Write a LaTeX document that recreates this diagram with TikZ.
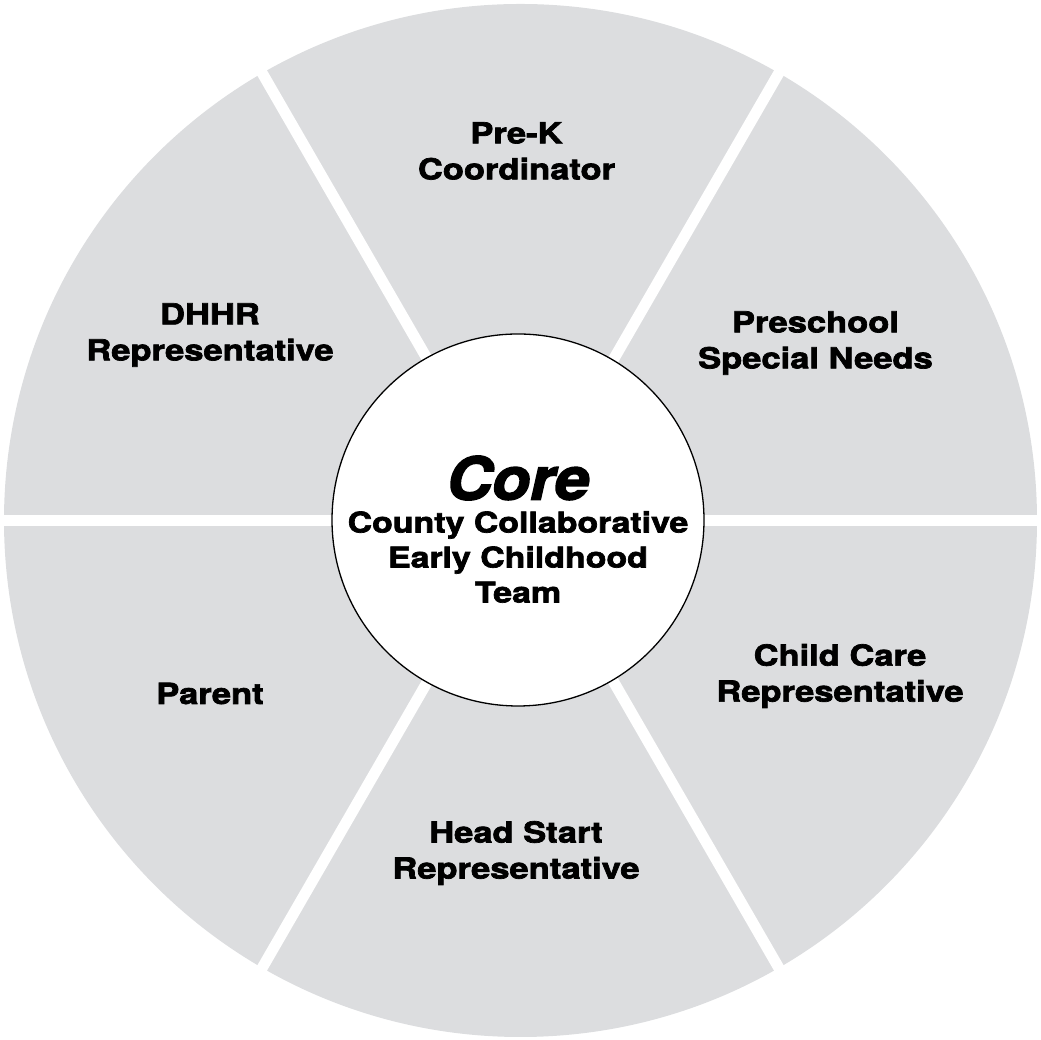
\documentclass[tikz,border=0pt]{standalone}
\usepackage{fontspec}
\setmainfont{TeX Gyre Heros}[BoldFeatures={FakeStretch=1.19,FakeBold=2.4},BoldItalicFeatures={FakeStretch=1.06,FakeBold=2.6}]
\definecolor{sectorgray}{HTML}{DCDDDF}
\begin{document}
\begin{tikzpicture}[x=1pt,y=1pt,
  label/.style={align=center,font=\bfseries\fontsize{29}{36}\selectfont,text=black,inner sep=0pt},
  gap/.style={white,line width=11pt}]
\useasboundingbox (0,0) rectangle (1041,1040);
\coordinate (C) at (520.5,519.5);
\fill[sectorgray] (C) circle (516.5);
\foreach \a in {0,60,120,180,240,300}{
  \draw[gap] (C) -- ++(\a:530);
}
\node[circle,draw=black,line width=1.3pt,fill=white,minimum size=372pt,inner sep=0pt] (core) at (518,520) {};
\node[font=\bfseries\itshape\fontsize{59}{60}\selectfont,inner sep=0pt] (coretitle) at (518,562) {Core};
\node[label,font=\bfseries\fontsize{28.5}{35}\selectfont] (coretext) at (518,483) {County Collaborative\\Early Childhood\\Team};
\node[label] (prek) at (516.5,889) {Pre-K\\Coordinator};
\node[label] (presch) at (815.5,697) {Preschool\\Special Needs};
\node[label] (dhhr) at (210,705) {DHHR\\Representative};
\node[label] (parent) at (210,346.5) {Parent};
\node[label] (child) at (840,364) {Child Care\\Representative};
\node[label] (head) at (516,187) {Head Start\\Representative};
\end{tikzpicture}
\end{document}
